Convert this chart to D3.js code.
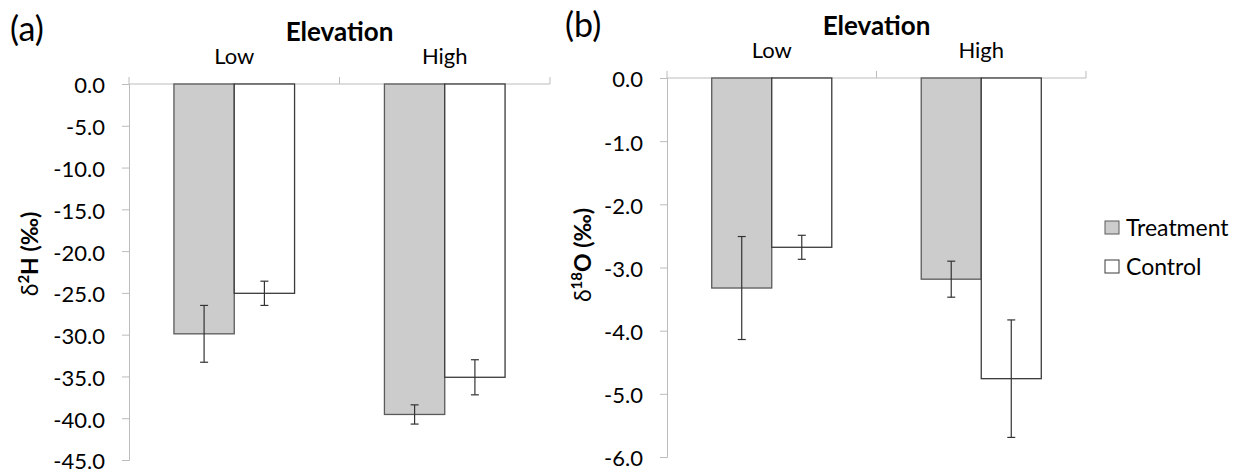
<!DOCTYPE html>
<html><head><meta charset="utf-8">
<script src="https://cdn.jsdelivr.net/npm/d3@7"></script>
<style>body{margin:0;background:#fff}svg{display:block}text{font-family:Lato,"Open Sans",sans-serif;fill:#000}</style>
</head><body><svg id="c" width="1244" height="475"></svg>
<script>
const categories = ["Low", "High"];
const seriesNames = ["Treatment", "Control"];
// panel (a) δ2H
const h2Treatment = [-29.9, -39.55];
const h2TreatmentErr = [3.4, 1.15];
const h2Control = [-25.05, -35.1];
const h2ControlErr = [1.45, 2.1];
const h2Ticks = [0, -5, -10, -15, -20, -25, -30, -35, -40, -45];
// panel (b) δ18O
const o18Treatment = [-3.325, -3.185];
const o18TreatmentErr = [0.815, 0.285];
const o18Control = [-2.68, -4.76];
const o18ControlErr = [0.19, 0.93];
const o18Ticks = [0, -1, -2, -3, -4, -5, -6];

const svg = d3.select("#c");
const fills = {Treatment: "#cccccc", Control: "#ffffff"};
const strokes = {Treatment: "#5a5a5a", Control: "#3a3a3a"};
const axisColor = "#bcbcbc";
const fmt = d => d3.format(".1f")(d).replace("\u2212", "-");

function panel(cfg) {
  const g = svg.append("g");
  const x = d3.scaleBand().domain(categories).range([cfg.x0, cfg.x1]).paddingInner(0).paddingOuter(0);
  const xi = d3.scaleBand().domain(seriesNames).range([0, x.bandwidth()]).paddingInner(0).paddingOuter(0.745);
  const y = d3.scaleLinear().domain([cfg.ticks[cfg.ticks.length - 1], 0]).range([cfg.yBottom, cfg.yTop]);

  // y axis
  const yAxis = d3.axisLeft(y).tickValues(cfg.ticks).tickFormat(fmt).tickSizeOuter(0).tickSize(7).tickPadding(17);
  const ya = g.append("g").attr("transform", `translate(${cfg.x0},0)`).call(yAxis);
  ya.select(".domain").attr("stroke", axisColor);
  ya.selectAll(".tick line").attr("stroke", axisColor);
  ya.selectAll(".tick text").attr("font-size", 22).attr("font-family", "Lato").attr("fill", "#000")
    .attr("dy", "0.36em").attr("y", 1);

  // top x axis
  const xa = g.append("g").attr("transform", `translate(0,${cfg.yTop})`);
  xa.append("line").attr("x1", cfg.x0).attr("x2", cfg.x1).attr("stroke", axisColor);
  const bounds = [cfg.x0].concat(categories.map(c => x(c) + x.bandwidth()));
  xa.selectAll("line.tk").data(bounds).enter().append("line").attr("class", "tk")
    .attr("x1", d => d).attr("x2", d => d).attr("y1", 0).attr("y2", -7).attr("stroke", axisColor);
  xa.selectAll("text").data(categories).enter().append("text")
    .attr("x", d => x(d) + x.bandwidth() / 2).attr("y", -20).attr("text-anchor", "middle")
    .attr("font-size", 22).text(d => d);

  // title
  g.append("text").attr("x", (cfg.x0 + cfg.x1) / 2).attr("y", cfg.yTop - 43).attr("text-anchor", "middle")
    .attr("font-size", 26).attr("font-weight", "bold").text("Elevation");
  // panel letter
  g.append("text").attr("x", cfg.letterX).attr("y", cfg.letterY).attr("font-size", 34).text(cfg.letter);

  // bars
  const data = [];
  categories.forEach((c, i) => {
    data.push({c, s: "Treatment", v: cfg.treat[i], e: cfg.treatErr[i]});
    data.push({c, s: "Control", v: cfg.ctrl[i], e: cfg.ctrlErr[i]});
  });
  g.selectAll("rect.bar").data(data).enter().append("rect").attr("class", "bar")
    .attr("x", d => x(d.c) + xi(d.s)).attr("width", xi.bandwidth())
    .attr("y", y(0)).attr("height", d => y(d.v) - y(0))
    .attr("fill", d => fills[d.s]).attr("stroke", d => strokes[d.s]).attr("stroke-width", 1.3);
  // error bars
  const eb = g.selectAll("g.err").data(data).enter().append("g").attr("class", "err")
    .attr("stroke", "#333").attr("stroke-width", 1.2);
  const cx = d => x(d.c) + xi(d.s) + xi.bandwidth() / 2;
  eb.append("line").attr("x1", cx).attr("x2", cx).attr("y1", d => y(d.v + d.e)).attr("y2", d => y(d.v - d.e));
  eb.append("line").attr("x1", d => cx(d) - 4).attr("x2", d => cx(d) + 4).attr("y1", d => y(d.v + d.e)).attr("y2", d => y(d.v + d.e));
  eb.append("line").attr("x1", d => cx(d) - 4).attr("x2", d => cx(d) + 4).attr("y1", d => y(d.v - d.e)).attr("y2", d => y(d.v - d.e));

  // y label
  const yl = g.append("text").attr("transform", `translate(${cfg.labelX},${cfg.labelY}) rotate(-90)`)
    .attr("text-anchor", "middle").attr("font-size", 23).attr("font-weight", "bold");
  yl.append("tspan").attr("font-weight", "normal").text("δ");
  yl.append("tspan").attr("font-size", 15).attr("dy", -9).text(cfg.sup);
  yl.append("tspan").attr("dy", 9).text(cfg.elem + " (‰)");
}

panel({x0: 129, x1: 550, yTop: 84, yBottom: 460, ticks: h2Ticks,
  treat: h2Treatment, treatErr: h2TreatmentErr, ctrl: h2Control, ctrlErr: h2ControlErr,
  letter: "(a)", letterX: 10, letterY: 41, labelX: 38, labelY: 254, sup: "2", elem: "H"});
panel({x0: 667, x1: 1086, yTop: 78, yBottom: 457, ticks: o18Ticks,
  treat: o18Treatment, treatErr: o18TreatmentErr, ctrl: o18Control, ctrlErr: o18ControlErr,
  letter: "(b)", letterX: 565, letterY: 37, labelX: 591, labelY: 255, sup: "18", elem: "O"});

// legend
const lg = svg.append("g");
seriesNames.forEach((s, i) => {
  lg.append("rect").attr("x", 1105).attr("y", 221 + i * 39).attr("width", 14).attr("height", 13)
    .attr("fill", fills[s]).attr("stroke", strokes[s]).attr("stroke-width", 1);
  lg.append("text").attr("x", 1126).attr("y", 228 + i * 39).attr("dy", "0.36em").attr("font-size", 23).text(s);
});
</script></body></html>
